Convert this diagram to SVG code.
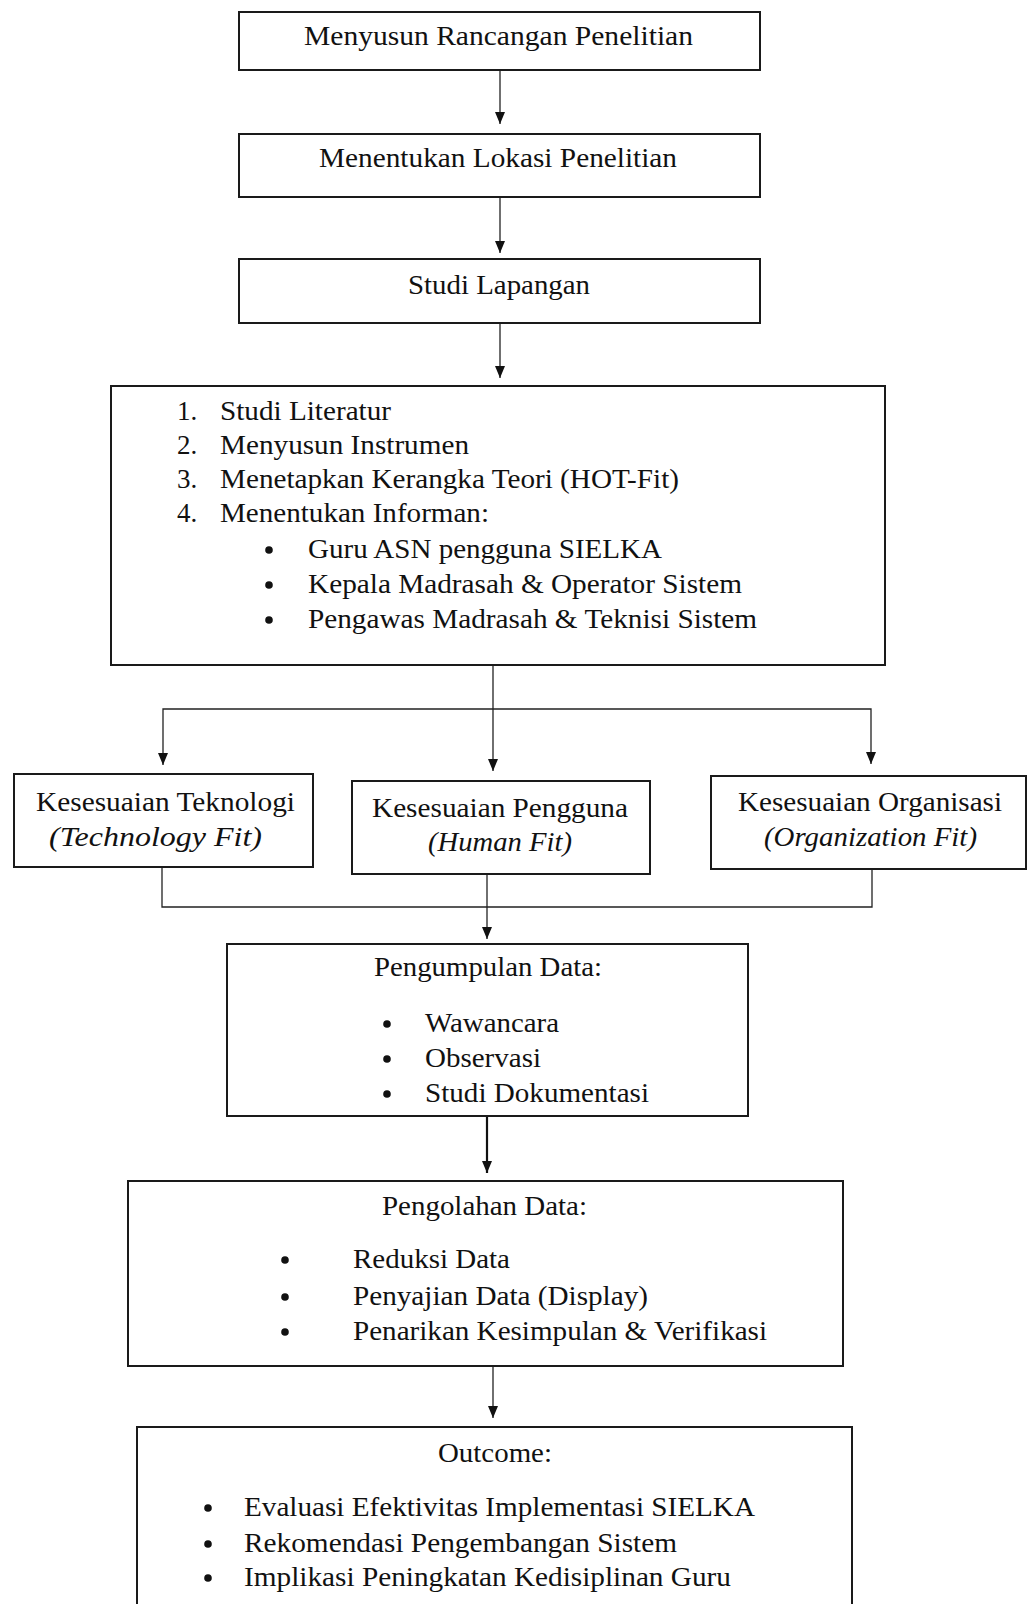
<svg xmlns="http://www.w3.org/2000/svg" width="1028" height="1604" viewBox="0 0 1028 1604">
<style>
.box{fill:#fff;stroke:#1a1a1a;stroke-width:2}
.t{font-family:"Liberation Serif","Times New Roman",serif;font-size:27px;fill:#111}
.i{font-style:italic}
.ln{fill:none;stroke:#222;stroke-width:1.3}
.lnb{fill:none;stroke:#111;stroke-width:2.2}
.dot{fill:#111}
</style>
<defs>
<marker id="ah" viewBox="0 0 12 10" refX="12" refY="5" markerWidth="12" markerHeight="10" markerUnits="userSpaceOnUse" orient="auto">
<path d="M0,0 L12,5 L0,10 Z" fill="#111"/>
</marker>
</defs>
<rect width="1028" height="1604" fill="#fff"/>

<g id="connectors">
<line class="ln" x1="500" y1="70" x2="500" y2="124" marker-end="url(#ah)"/>
<line class="ln" x1="500" y1="197" x2="500" y2="253" marker-end="url(#ah)"/>
<line class="ln" x1="500" y1="323" x2="500" y2="378" marker-end="url(#ah)"/>
<line class="ln" x1="493" y1="665" x2="493" y2="771" marker-end="url(#ah)"/>
<polyline class="ln" points="163,765 163,709 871,709 871,764"/>
<path d="M158,753 L168,753 L163,765 Z" fill="#111"/>
<path d="M866,752 L876,752 L871,764 Z" fill="#111"/>
<polyline class="ln" points="162,867 162,907 872,907 872,869"/>
<line class="ln" x1="487" y1="875" x2="487" y2="939" marker-end="url(#ah)"/>
<line class="lnb" x1="487" y1="1116" x2="487" y2="1173" marker-end="url(#ah)"/>
<line class="ln" x1="493" y1="1366" x2="493" y2="1418" marker-end="url(#ah)"/>
</g>

<g id="n1">
<rect class="box" x="239" y="12" width="521" height="58"/>
<text class="t" x="304" y="45" textLength="389" lengthAdjust="spacingAndGlyphs">Menyusun Rancangan Penelitian</text>
</g>
<g id="n2">
<rect class="box" x="239" y="134" width="521" height="63"/>
<text class="t" x="319" y="167" textLength="358" lengthAdjust="spacingAndGlyphs">Menentukan Lokasi Penelitian</text>
</g>
<g id="n3">
<rect class="box" x="239" y="259" width="521" height="64"/>
<text class="t" x="408" y="294" textLength="182" lengthAdjust="spacingAndGlyphs">Studi Lapangan</text>
</g>
<g id="n4">
<rect class="box" x="111" y="386" width="774" height="279"/>
<text class="t" x="177" y="420">1.</text>
<text class="t" x="220" y="420" textLength="171" lengthAdjust="spacingAndGlyphs">Studi Literatur</text>
<text class="t" x="177" y="454">2.</text>
<text class="t" x="220" y="454" textLength="249" lengthAdjust="spacingAndGlyphs">Menyusun Instrumen</text>
<text class="t" x="177" y="488">3.</text>
<text class="t" x="220" y="488" textLength="459" lengthAdjust="spacingAndGlyphs">Menetapkan Kerangka Teori (HOT-Fit)</text>
<text class="t" x="177" y="522">4.</text>
<text class="t" x="220" y="522" textLength="269" lengthAdjust="spacingAndGlyphs">Menentukan Informan:</text>
<circle class="dot" cx="269" cy="550" r="3.8"/>
<text class="t" x="308" y="558" textLength="354" lengthAdjust="spacingAndGlyphs">Guru ASN pengguna SIELKA</text>
<circle class="dot" cx="269" cy="585" r="3.8"/>
<text class="t" x="308" y="593" textLength="434" lengthAdjust="spacingAndGlyphs">Kepala Madrasah &amp; Operator Sistem</text>
<circle class="dot" cx="269" cy="620" r="3.8"/>
<text class="t" x="308" y="628" textLength="449" lengthAdjust="spacingAndGlyphs">Pengawas Madrasah &amp; Teknisi Sistem</text>
</g>
<g id="n5">
<rect class="box" x="14" y="774" width="299" height="93"/>
<text class="t" x="36" y="811" textLength="259" lengthAdjust="spacingAndGlyphs">Kesesuaian Teknologi</text>
<text class="t i" x="49" y="846" textLength="213" lengthAdjust="spacingAndGlyphs">(Technology Fit)</text>
</g>
<g id="n6">
<rect class="box" x="352" y="781" width="298" height="93"/>
<text class="t" x="372" y="817" textLength="256" lengthAdjust="spacingAndGlyphs">Kesesuaian Pengguna</text>
<text class="t i" x="428" y="851" textLength="144" lengthAdjust="spacingAndGlyphs">(Human Fit)</text>
</g>
<g id="n7">
<rect class="box" x="711" y="776" width="315" height="93"/>
<text class="t" x="738" y="811" textLength="264" lengthAdjust="spacingAndGlyphs">Kesesuaian Organisasi</text>
<text class="t i" x="764" y="846" textLength="213" lengthAdjust="spacingAndGlyphs">(Organization Fit)</text>
</g>
<g id="n8">
<rect class="box" x="227" y="944" width="521" height="172"/>
<text class="t" x="374" y="976" textLength="228" lengthAdjust="spacingAndGlyphs">Pengumpulan Data:</text>
<circle class="dot" cx="387" cy="1024" r="3.8"/>
<text class="t" x="425" y="1032" textLength="134" lengthAdjust="spacingAndGlyphs">Wawancara</text>
<circle class="dot" cx="387" cy="1059" r="3.8"/>
<text class="t" x="425" y="1067" textLength="116" lengthAdjust="spacingAndGlyphs">Observasi</text>
<circle class="dot" cx="387" cy="1094" r="3.8"/>
<text class="t" x="425" y="1102" textLength="224" lengthAdjust="spacingAndGlyphs">Studi Dokumentasi</text>
</g>
<g id="n9">
<rect class="box" x="128" y="1181" width="715" height="185"/>
<text class="t" x="382" y="1215" textLength="205" lengthAdjust="spacingAndGlyphs">Pengolahan Data:</text>
<circle class="dot" cx="285" cy="1260" r="3.8"/>
<text class="t" x="353" y="1268" textLength="157" lengthAdjust="spacingAndGlyphs">Reduksi Data</text>
<circle class="dot" cx="285" cy="1297" r="3.8"/>
<text class="t" x="353" y="1305" textLength="295" lengthAdjust="spacingAndGlyphs">Penyajian Data (Display)</text>
<circle class="dot" cx="285" cy="1332" r="3.8"/>
<text class="t" x="353" y="1340" textLength="414" lengthAdjust="spacingAndGlyphs">Penarikan Kesimpulan &amp; Verifikasi</text>
</g>
<g id="n10">
<rect class="box" x="137" y="1427" width="715" height="200"/>
<text class="t" x="438" y="1462" textLength="114" lengthAdjust="spacingAndGlyphs">Outcome:</text>
<circle class="dot" cx="208" cy="1508" r="3.8"/>
<text class="t" x="244" y="1516" textLength="511" lengthAdjust="spacingAndGlyphs">Evaluasi Efektivitas Implementasi SIELKA</text>
<circle class="dot" cx="208" cy="1544" r="3.8"/>
<text class="t" x="244" y="1552" textLength="433" lengthAdjust="spacingAndGlyphs">Rekomendasi Pengembangan Sistem</text>
<circle class="dot" cx="208" cy="1578" r="3.8"/>
<text class="t" x="244" y="1586" textLength="487" lengthAdjust="spacingAndGlyphs">Implikasi Peningkatan Kedisiplinan Guru</text>
</g>
</svg>
